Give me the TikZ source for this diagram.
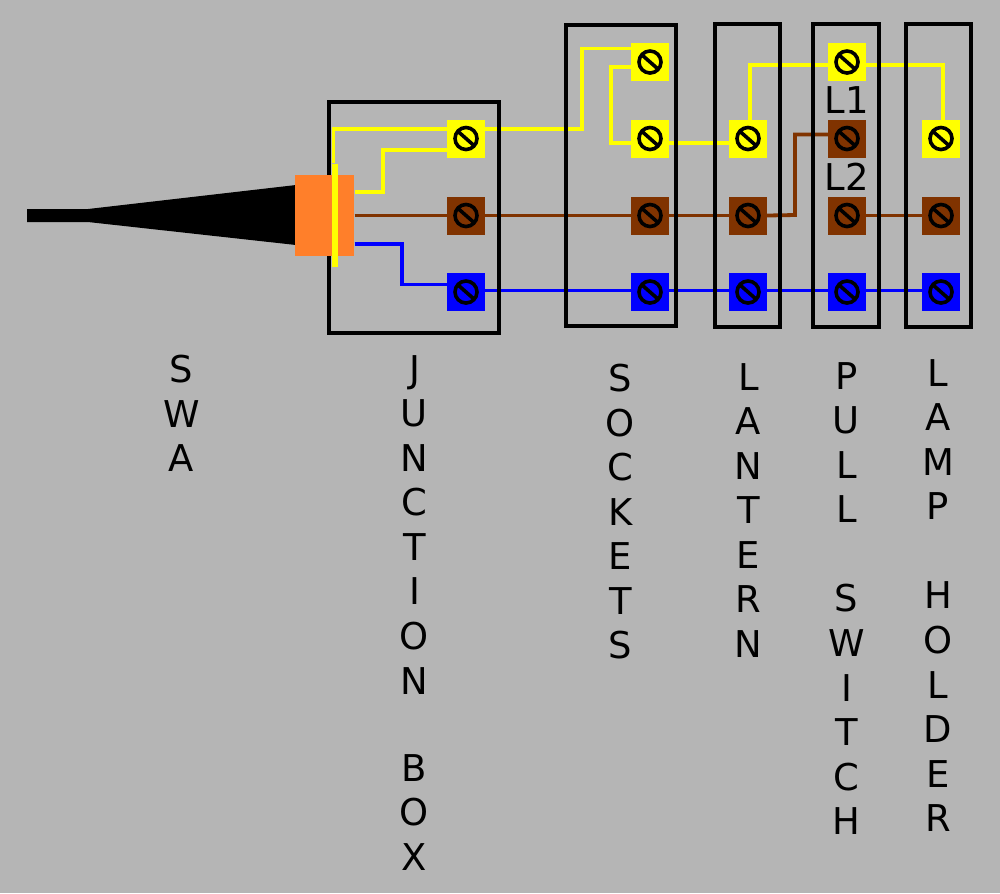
\documentclass[tikz,border=0pt]{standalone}
\usepackage{fontspec}
\setmainfont{DejaVu Sans}
\usetikzlibrary{calc,backgrounds}

\definecolor{bggrey}{HTML}{B5B5B5}
\definecolor{live}{HTML}{FFFF00}
\definecolor{earthbrown}{HTML}{803300}
\definecolor{neutralblue}{HTML}{0000FF}
\definecolor{gland}{HTML}{FF7F2A}

\tikzset{
  terminal/.style={minimum size=3.8mm,inner sep=0pt,outer sep=0pt,fill=#1,
    path picture={
      \draw[black,line width=.36mm] (path picture bounding box.center) circle (1.1mm);
      \draw[black,line width=.36mm] ($(path picture bounding box.center)+(-.85mm,.75mm)$) -- ($(path picture bounding box.center)+(.85mm,-.75mm)$);
    }},
  enclosure/.style={draw=black,line width=.4mm,outer sep=0pt},
  wire/.style={line width=.38mm,#1},
  caption/.style={align=center,anchor=north,font=\fontsize{10.5}{12.66}\selectfont},
  small/.style={font=\fontsize{10.5}{12.66}\selectfont,inner sep=0pt}
}

\begin{document}
\begin{tikzpicture}[x=.01cm,y=-.01cm]
    \useasboundingbox (0,0) rectangle (1000,893);

    \coordinate (bendA) at (582,129);
    \coordinate (bendB) at (383,150);
    \coordinate (bendC) at (611,67);
    \coordinate (bendD) at (795,215);
    \coordinate (bendE) at (402,284.5);

    % enclosures
    \node[enclosure,minimum width=1.7cm,minimum height=2.31cm] (box) at (414,217.5) {};
    \node[enclosure,minimum width=1.1cm,minimum height=3.01cm] (sockets) at (621,175.5) {};
    \node[enclosure,minimum width=.65cm,minimum height=3.03cm] (lantern) at (747.5,175.5) {};
    \node[enclosure,minimum width=.65cm,minimum height=3.03cm] (pull) at (846,175.5) {};
    \node[enclosure,minimum width=.65cm,minimum height=3.03cm] (holder) at (938.5,175.5) {};

    % cable and gland
    \fill[black] (27,209) -- (88,209) -- (296,185) -- (296,245) -- (88,222) -- (27,222) -- cycle;
    \node[fill=gland,minimum width=.59cm,minimum height=.81cm,inner sep=0pt] (glandnut) at (324.5,215.5) {};
    \node[fill=live,minimum width=.06cm,minimum height=1.03cm,inner sep=0pt] (earthbar) at (335,215.5) {};

    % terminals
    \node[terminal=live] (boxL) at (466,138.5) {};
    \node[terminal=earthbrown] (boxE) at (466,215.5) {};
    \node[terminal=neutralblue] (boxN) at (466,292) {};

    \node[terminal=live] (socketA) at (650,62) {};
    \node[terminal=live] (socketB) at (650,138.5) {};
    \node[terminal=earthbrown] (socketE) at (650,215.5) {};
    \node[terminal=neutralblue] (socketN) at (650,292) {};

    \node[terminal=live] (lanternL) at (748,138.5) {};
    \node[terminal=earthbrown] (lanternE) at (748,215.5) {};
    \node[terminal=neutralblue] (lanternN) at (748,292) {};

    \node[terminal=live] (pullA) at (847,62) {};
    \node[terminal=earthbrown] (pullB) at (847,138.5) {};
    \node[terminal=earthbrown] (pullC) at (847,215.5) {};
    \node[terminal=neutralblue] (pullN) at (847,292) {};

    \node[terminal=live] (holderL) at (941,138.5) {};
    \node[terminal=earthbrown] (holderE) at (941,215.5) {};
    \node[terminal=neutralblue] (holderN) at (941,292) {};

    % wires, the enclosures lie over them
    \begin{scope}[on background layer]
    \fill[bggrey] (0,0) rectangle (1000,893);
    \draw[wire=live] ($(boxL.east)+(0,-9.5)$) -- (bendA) |- ($(socketA.west)+(0,-13.5)$);
    \draw[wire=live] ($(socketA.west)+(0,5)$) -- (bendC) |- ($(socketB.west)+(0,4.5)$);
    \draw[wire=live] ($(socketB.east)+(0,4.5)$) -- ($(lanternL.west)+(0,4.5)$);
    \draw[wire=live] ($(lanternL.north)+(2,0)$) |- ($(pullA.west)+(0,3)$);
    \draw[wire=live] ($(pullA.east)+(0,3)$) -| ($(holderL.north)+(2,0)$);

    \draw[wire=earthbrown] (boxE.east) -- (socketE.west);
    \draw[wire=earthbrown] (socketE.east) -- (lanternE.west);
    \draw[wire=earthbrown] (lanternE.east) -- (bendD) |- ($(pullB.west)+(0,-4)$);
    \draw[wire=earthbrown] (pullC.east) -- (holderE.west);

    \draw[wire=neutralblue] ($(boxN.east)+(0,-1.5)$) -- ($(socketN.west)+(0,-1.5)$);
    \draw[wire=neutralblue] ($(socketN.east)+(0,-1.5)$) -- ($(lanternN.west)+(0,-1.5)$);
    \draw[wire=neutralblue] ($(lanternN.east)+(0,-1.5)$) -- ($(pullN.west)+(0,-1.5)$);
    \draw[wire=neutralblue] ($(pullN.east)+(0,-1.5)$) -- ($(holderN.west)+(0,-1.5)$);
    \end{scope}

    % inside the junction box
    \draw[wire=live] ($(earthbar.north)+(-1.5,0)$) |- ($(boxL.west)+(0,-9.5)$);
    \draw[wire=live] ($(glandnut.east)+(0,-23.5)$) -| (bendB) -- ($(boxL.west)+(0,11.5)$);
    \draw[wire=earthbrown] (glandnut.east) -- (boxE.west);
    \draw[wire=neutralblue] ($(glandnut.east)+(0,28.5)$) -| (bendE) -- ($(boxN.west)+(0,-7.5)$);

    % labels
    \node[small] (labelA) at (847,100) {L1};
    \node[small] (labelB) at (847,177) {L2};
    \node[caption] (swa) at (181.5,343) {S\\W\\A};
    \node[caption] (junction) at (414.5,343) {J\\U\\N\\C\\T\\I\\O\\N\\ \\[-.5pt]B\\O\\X};
    \node[caption] (socketstext) at (620.5,352) {S\\O\\C\\K\\E\\T\\S};
    \node[caption] (lanterntext) at (748.5,351) {L\\A\\N\\T\\E\\R\\N};
    \node[caption] (pulltext) at (846.5,350) {P\\U\\L\\L\\ \\S\\W\\I\\T\\C\\H};
    \node[caption] (holdertext) at (938,347) {L\\A\\M\\P\\ \\H\\O\\L\\D\\E\\R};
\end{tikzpicture}
\end{document}
